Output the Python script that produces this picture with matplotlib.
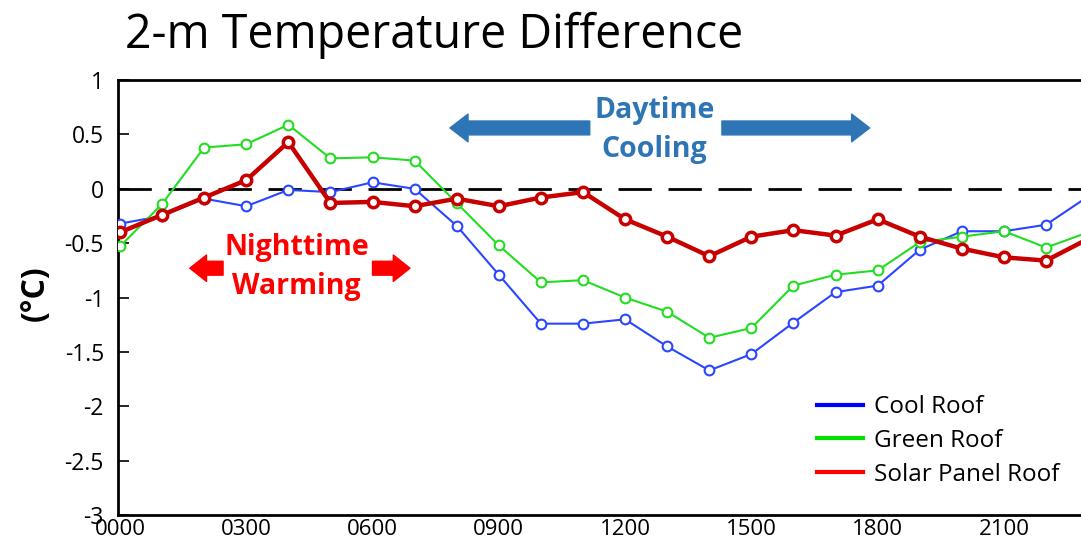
import numpy as np
import matplotlib
matplotlib.use("Agg")
from matplotlib import pyplot as plt
from matplotlib.lines import Line2D

plt.rcParams['font.family'] = ['Open Sans', 'DejaVu Sans']

# hourly values (hour index 0..23)
hours = np.arange(24)
cool_roof = [-0.32, -0.25, -0.09, -0.16, -0.01, -0.03, 0.06, 0.00, -0.34, -0.79,
             -1.24, -1.24, -1.20, -1.45, -1.67, -1.52, -1.23, -0.95, -0.89, -0.56,
             -0.39, -0.39, -0.33, -0.07]
green_roof = [-0.53, -0.14, 0.38, 0.41, 0.59, 0.28, 0.29, 0.26, -0.13, -0.52,
              -0.86, -0.84, -1.00, -1.13, -1.37, -1.28, -0.89, -0.79, -0.75, -0.49,
              -0.44, -0.39, -0.54, -0.40]
solar_roof = [-0.40, -0.24, -0.08, 0.08, 0.43, -0.13, -0.12, -0.16, -0.09, -0.16,
              -0.08, -0.03, -0.28, -0.44, -0.62, -0.44, -0.38, -0.43, -0.28, -0.44,
              -0.55, -0.63, -0.66, -0.46]
tick_hours = [0, 3, 6, 9, 12, 15, 18, 21]
tick_labels = ['0000', '0300', '0600', '0900', '1200', '1500', '1800', '2100']
y_ticks = [1, 0.5, 0, -0.5, -1, -1.5, -2, -2.5, -3]

fig = plt.figure(figsize=(10.81, 5.45), dpi=100)
ax = fig.add_axes([0.109, 0.055, 0.891, 0.798])

ax.axhline(0, color='black', lw=2, dashes=(12, 6), zorder=1)

ax.plot(hours, cool_roof, color='#2a46ff', lw=1.5, marker='o', ms=7,
        mfc='white', mec='#2a46ff', mew=1.5, zorder=3)
ax.plot(hours, green_roof, color='#22dd22', lw=1.5, marker='o', ms=7,
        mfc='white', mec='#22dd22', mew=1.5, zorder=3)
ax.plot(hours, solar_roof, color='#c80000', lw=3.2, marker='o', ms=7.5,
        mfc='white', mec='#c80000', mew=2.5, zorder=4)

ax.set_xlim(-0.05, 22.83)
ax.set_ylim(-3, 1)
ax.set_xticks(tick_hours)
ax.set_xticklabels(tick_labels)
ax.set_yticks(y_ticks)
ax.set_yticklabels([('%g' % v) for v in y_ticks])
ax.tick_params(axis='y', direction='in', length=8, width=1.2, labelsize=16.5, pad=10)
ax.tick_params(axis='x', length=0, labelsize=16, pad=3)
ax.spines['right'].set_visible(False)
for s in ['left', 'top', 'bottom']:
    ax.spines[s].set_linewidth(2)

# daytime / nighttime annotations
blue_c = '#2e75b6'
ax.text(12.7, 0.54, 'Daytime\nCooling', color=blue_c, fontsize=20.5,
        fontweight='bold', ha='center', va='center', linespacing=1.45)
arrow_blue = dict(arrowstyle='simple,head_length=0.65,head_width=1.0,tail_width=0.5',
                  color=blue_c, mutation_scale=20, shrinkA=0, shrinkB=0)
ax.annotate('', xy=(7.84, 0.56), xytext=(11.16, 0.56), arrowprops=arrow_blue)
ax.annotate('', xy=(17.81, 0.56), xytext=(14.3, 0.56), arrowprops=arrow_blue)

ax.text(4.2, -0.72, 'Nighttime\nWarming', color='#ff0000', fontsize=20.5,
        fontweight='bold', ha='center', va='center', linespacing=1.45)
arrow_red = dict(arrowstyle='simple,head_length=0.6,head_width=0.95,tail_width=0.5',
                 color='#ff0000', mutation_scale=20, shrinkA=0, shrinkB=0)
ax.annotate('', xy=(1.66, -0.73), xytext=(2.45, -0.73), arrowprops=arrow_red)
ax.annotate('', xy=(6.89, -0.73), xytext=(6.0, -0.73), arrowprops=arrow_red)

handles = [Line2D([], [], color='#0000ff', lw=3),
           Line2D([], [], color='#00e000', lw=3),
           Line2D([], [], color='#ff0000', lw=3)]
ax.legend(handles, ['Cool Roof', 'Green Roof', 'Solar Panel Roof'],
          loc='lower right', bbox_to_anchor=(1.0, 0.015), frameon=False,
          fontsize=17.5, handlelength=1.9, handletextpad=0.45, labelspacing=0.4)

fig.text(0.116, 0.935, '2-m Temperature Difference', fontsize=33.5,
         ha='left', va='center')
fig.text(0.033, 0.462, '(°C)', fontsize=23, fontweight='bold',
         rotation=90, ha='center', va='center')

plt.savefig('out.png', dpi=100)
plt.close()
